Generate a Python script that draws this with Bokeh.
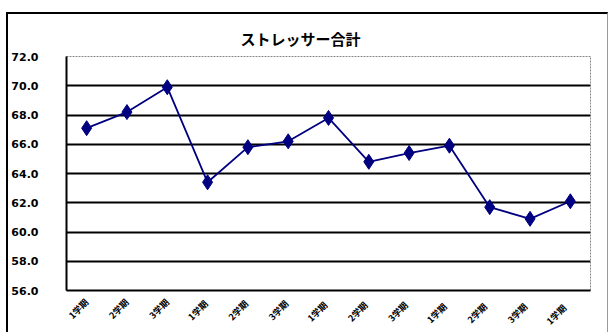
import math
from bokeh.plotting import figure
from bokeh.models import ColumnDataSource, FixedTicker, Range1d
from bokeh.embed import file_html
from bokeh.resources import INLINE

title_text = "ストレッサー合計"
categories = ["1学期", "2学期", "3学期", "1学期 ", "2学期 ", "3学期 ", "1学期  ",
              "2学期  ", "3学期  ", "1学期   ", "2学期   ", "3学期   ", "1学期    "]
values = [67.1, 68.2, 69.9, 63.4, 65.8, 66.2, 67.8, 64.8, 65.4, 65.9, 61.7, 60.9, 62.1]
y_ticks = [56, 58, 60, 62, 64, 66, 68, 70, 72]
y_tick_labels = {56: "56.0", 58: "58.0", 60: "60.0", 62: "62.0", 64: "64.0",
                 66: "66.0", 68: "68.0", 70: "70.0", 72: "72.0"}

src = ColumnDataSource(dict(cat=categories, val=values))

# canvas starts at x=9, y=15 (inside the CSS border of the chart area)
p = figure(width=602, height=320, x_range=categories, y_range=Range1d(56, 72),
           output_backend="svg", toolbar_location=None,
           title=title_text,
           min_border_left=57, min_border_right=20, min_border_top=42, min_border_bottom=26)
p.styles = {"margin-left": "6px", "margin-top": "12px",
            "border-left": "2px solid black", "border-top": "2px solid black",
            "border-right": "1px solid #999999"}
p.background_fill_color = "white"
p.border_fill_color = "white"
p.outline_line_color = "#888888"
p.outline_line_dash = "2 1"
p.outline_line_width = 1

p.title.align = "left"
p.title.offset = 174
p.title.standoff = 15
p.title.text_font = "Noto Sans CJK JP"
p.title.text_font_size = "15px"
p.title.text_font_style = "bold"
p.title.text_color = "black"

p.xgrid.grid_line_color = None
p.ygrid.ticker = FixedTicker(ticks=y_ticks[:-1])
p.ygrid.grid_line_color = "black"
p.ygrid.grid_line_width = 2

p.yaxis.ticker = FixedTicker(ticks=y_ticks)
p.yaxis.major_label_overrides = y_tick_labels
p.yaxis.major_tick_line_color = None
p.yaxis.minor_tick_line_color = None
p.yaxis.major_label_standoff = 22
p.yaxis.axis_line_color = "black"
p.yaxis.axis_line_width = 2
p.yaxis.major_label_text_font = "DejaVu Sans"
p.yaxis.major_label_text_font_style = "bold"
p.yaxis.major_label_text_font_size = "11px"
p.yaxis.major_label_text_color = "black"

p.xaxis.major_tick_line_color = None
p.xaxis.minor_tick_line_color = None
p.xaxis.axis_line_color = "black"
p.xaxis.axis_line_width = 2
p.xaxis.major_label_orientation = math.pi / 4
p.xaxis.major_label_standoff = 4
p.xaxis.major_label_text_font = "Noto Sans CJK JP"
p.xaxis.major_label_text_font_style = "bold"
p.xaxis.major_label_text_font_size = "9px"
p.xaxis.major_label_text_color = "black"

p.line("cat", "val", source=src, line_color="#000080", line_width=1.8)
p.scatter("cat", "val", source=src, marker="diamond", size=15,
          fill_color="#000080", line_color="#000080")

open("out.html", "w").write(file_html(p, INLINE))
